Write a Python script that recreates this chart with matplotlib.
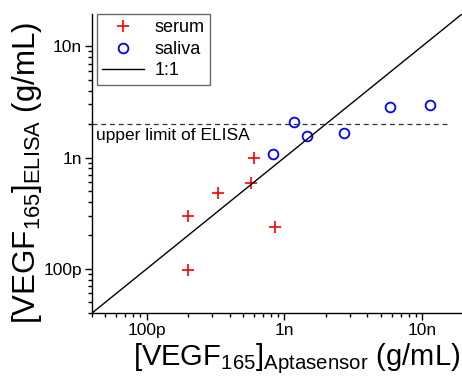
import numpy as np
import matplotlib
matplotlib.use('Agg')
from matplotlib import pyplot as plt
import matplotlib.ticker as ticker
import matplotlib.transforms as mtransforms

plt.rcParams['font.family'] = ['Liberation Sans', 'DejaVu Sans']
plt.rcParams['mathtext.default'] = 'regular'

# serum samples (g/mL)
serum_apta = [2.0e-10, 2.0e-10, 3.3e-10, 5.7e-10, 6.0e-10, 8.6e-10]
serum_elisa = [3.0e-10, 9.7e-11, 4.85e-10, 5.85e-10, 1.0e-9, 2.4e-10]

# saliva samples (g/mL)
saliva_apta = [8.2e-10, 1.18e-9, 1.47e-9, 2.72e-9, 5.85e-9, 1.14e-8]
saliva_elisa = [1.07e-9, 2.07e-9, 1.55e-9, 1.66e-9, 2.87e-9, 2.96e-9]

elisa_limit = 2.0e-9
axis_range = [10**-10.4, 10**-7.71]

tick_vals = [1e-10, 1e-9, 1e-8]
tick_labels = ['100p', '1n', '10n']

fig = plt.figure(figsize=(4.62, 3.80), dpi=100)
ax = fig.add_axes([0.1985, 0.1755, 0.8015, 0.7876])

ax.plot(serum_apta, serum_elisa, linestyle='none', marker='+', color='#ff0000',
        markersize=8, markeredgewidth=1.2, label='serum')
ax.plot(saliva_apta, saliva_elisa, linestyle='none', marker='o', markerfacecolor='none',
        markeredgecolor='#0000ff', markersize=7, markeredgewidth=1.3, label='saliva')
ax.plot(axis_range, axis_range, color='black', linewidth=1.0, label='1:1')

# ELISA upper limit
ax.plot([axis_range[0], 1.6e-8], [elisa_limit, elisa_limit], color='#333333',
        linewidth=0.9, linestyle=(0, (4, 3)))
blend = mtransforms.blended_transform_factory(ax.transAxes, ax.transData)
ax.text(0.012, 1.85e-9, 'upper limit of ELISA', fontsize=12.5, va='top', ha='left',
        transform=blend)

ax.set_xscale('log')
ax.set_yscale('log')
ax.set_xlim(axis_range)
ax.set_ylim(axis_range)

for axis in [ax.xaxis, ax.yaxis]:
    axis.set_major_locator(ticker.FixedLocator(tick_vals))
    axis.set_major_formatter(ticker.FixedFormatter(tick_labels))
    axis.set_minor_locator(ticker.LogLocator(base=10, subs=np.arange(2, 10), numticks=20))
    axis.set_minor_formatter(ticker.NullFormatter())

ax.tick_params(which='major', direction='out', length=5, width=1, labelsize=12.5, pad=2)
ax.tick_params(which='minor', direction='out', length=3, width=1)

ax.spines['top'].set_visible(False)
ax.spines['right'].set_visible(False)
ax.spines['left'].set_linewidth(1)
ax.spines['bottom'].set_linewidth(1)

ax.set_xlabel('[VEGF$_{165}$]$_{Aptasensor}$ (g/mL)', fontsize=21)
ax.xaxis.set_label_coords(0.553, -0.095, transform=ax.transAxes)
ax.xaxis.label.set_va('top')
ax.set_ylabel('[VEGF$_{165}$]$_{ELISA}$ (g/mL)', fontsize=22.5)
ax.yaxis.set_label_coords(-0.13, 0.47, transform=ax.transAxes)

leg = ax.legend(loc='upper left', bbox_to_anchor=(0.014, 1.0), borderaxespad=0,
                fontsize=13, frameon=True, fancybox=False, handlelength=2.3,
                handletextpad=0.6, labelspacing=0.25, borderpad=0.3)
leg.get_frame().set_edgecolor('#444444')
leg.get_frame().set_linewidth(1)

fig.savefig('out.png', dpi=100)
